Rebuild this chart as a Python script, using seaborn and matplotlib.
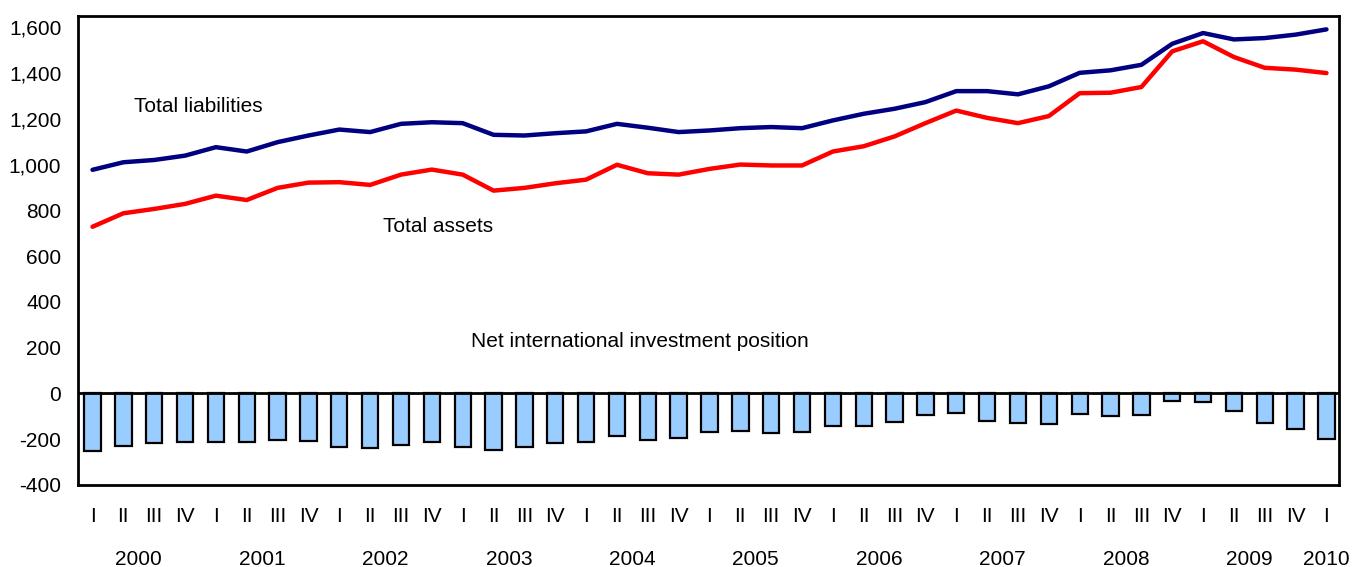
import numpy as np
import pandas as pd
import matplotlib
matplotlib.use("Agg")
import matplotlib.pyplot as plt
import matplotlib.transforms as mtransforms
import seaborn as sns

# quarters 2000 I .. 2010 I
quarters = ["I", "II", "III", "IV"] * 10 + ["I"]
years = ["2000", "2001", "2002", "2003", "2004", "2005", "2006", "2007", "2008", "2009", "2010"]

liabilities = [977, 1010, 1020, 1039, 1076, 1057, 1098, 1127, 1153, 1142,
               1178, 1185, 1181, 1130, 1127, 1137, 1145, 1178, 1161, 1142,
               1149, 1159, 1164, 1159, 1193, 1222, 1244, 1273, 1321, 1321,
               1307, 1342, 1401, 1412, 1436, 1528, 1575, 1547, 1553, 1568,
               1591]
assets = [728, 787, 806, 828, 864, 845, 898, 921, 923, 911,
          956, 978, 956, 886, 898, 918, 934, 999, 962, 956,
          981, 1000, 996, 996, 1057, 1080, 1123, 1181, 1236, 1204,
          1181, 1212, 1312, 1314, 1339, 1495, 1539, 1470, 1423, 1415,
          1400]
net_position = [-252, -230, -218, -212, -212, -215, -203, -207, -233, -237,
                -227, -212, -233, -249, -233, -219, -215, -185, -204, -196,
                -170, -163, -175, -168, -141, -145, -126, -93, -86, -121,
                -129, -133, -89, -99, -96, -33, -37, -79, -130, -156,
                -200]

df = pd.DataFrame({
    "q": np.arange(len(quarters)),
    "liab": liabilities,
    "assets": assets,
    "net": net_position,
})

sns.set_theme(style="white")
plt.rcParams["font.family"] = ["Liberation Sans", "DejaVu Sans"]
plt.rcParams["text.color"] = "black"
plt.rcParams["xtick.color"] = "black"
plt.rcParams["ytick.color"] = "black"
fs = 15

fig = plt.figure(figsize=(13.52, 5.67), dpi=100)
ax = fig.add_axes([0.0577, 0.145, 0.933, 0.827])

sns.barplot(data=df, x="q", y="net", color="#99CCFF", saturation=1,
            edgecolor="black", linewidth=1.6, width=0.53, ax=ax)
ax.axhline(0, color="black", linewidth=2, zorder=3)
sns.lineplot(data=df, x="q", y="liab", color="#000080", linewidth=3.2, ax=ax)
sns.lineplot(data=df, x="q", y="assets", color="#FF0000", linewidth=3.2, ax=ax)

ax.set_xlim(-0.47, 40.42)
ax.set_ylim(-400, 1650)
ax.set_yticks(range(-400, 1601, 200))
ax.set_yticklabels([f"{v:,}" for v in range(-400, 1601, 200)], fontsize=fs, color="black")
ax.set_yticks([100, 1100, 1600], minor=True)
ax.tick_params(axis="y", which="major", length=0, pad=12)
ax.tick_params(axis="y", which="minor", direction="in", length=5, width=1.5, color="black")

ax.set_xticks(np.arange(len(quarters)))
ax.set_xticklabels(quarters, fontsize=fs, color="black")
ax.tick_params(axis="x", length=0, pad=16)
ax.set_xlabel("")
ax.set_ylabel("")

for s in ax.spines.values():
    s.set_color("black")
    s.set_linewidth(2)

# year labels centred under their quarters
trans = mtransforms.blended_transform_factory(ax.transData, fig.transFigure)
for i, yr in enumerate(years):
    xpos = i * 4 + 1.5 if yr != "2010" else 40
    ax.text(xpos, 0.004, yr, transform=trans, ha="center", va="baseline", fontsize=fs)

ax.text(3.42, 1228, "Total liabilities", fontsize=fs, ha="center", va="baseline")
ax.text(11.2, 705, "Total assets", fontsize=fs, ha="center", va="baseline")
ax.text(17.73, 201, "Net international investment position", fontsize=fs, ha="center", va="baseline")

fig.savefig("out.png", dpi=100)
